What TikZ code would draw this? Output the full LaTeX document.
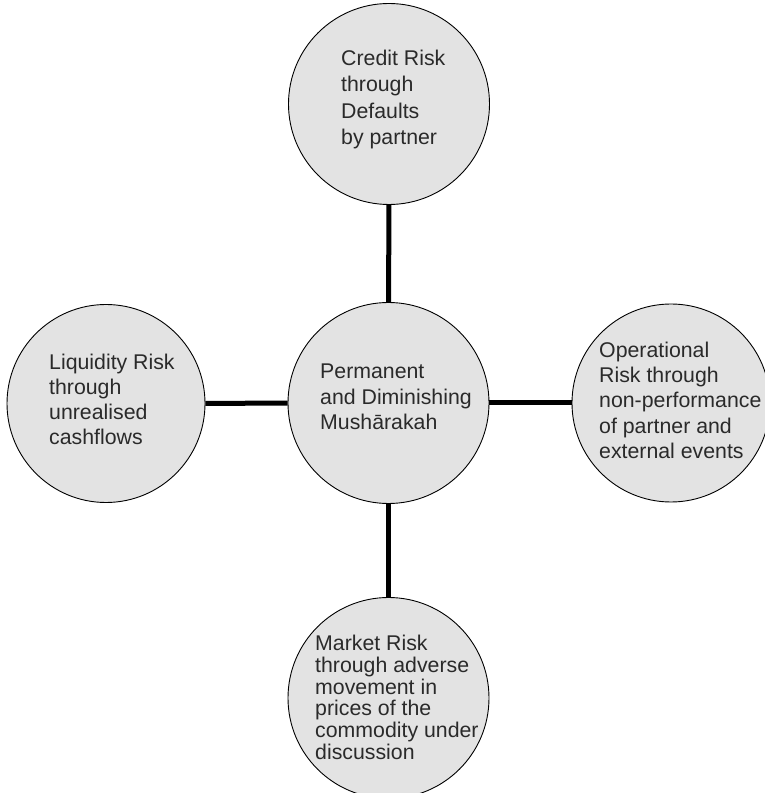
\documentclass[tikz,border=0pt]{standalone}
\usepackage{fontspec}
\setmainfont{Liberation Sans}
\definecolor{circfill}{HTML}{E3E3E3}
\definecolor{txtcol}{HTML}{2A2A2A}
\tikzset{
  riskcircle/.style={circle, draw=black, line width=0.9pt, fill=circfill, minimum size=201pt, inner sep=0pt},
  conn/.style={line width=5pt, draw=black},
  lbl/.style={anchor=base west, inner sep=0pt, text=txtcol},
}
\newcommand{\lines}[2]{\fontsize{21.3}{#1}\selectfont\begin{tabular}[t]{@{}l@{}}#2\end{tabular}}
\begin{document}
\begin{tikzpicture}[x=1pt,y=1pt]
\useasboundingbox (0,0) rectangle (765,793);
\node[riskcircle] (top) at (389,689) {};
\node[riskcircle] (mid) at (388.5,390) {};
\node[riskcircle, minimum size=198pt] (left) at (106,389.5) {};
\node[riskcircle, minimum size=198pt] (right) at (671,390) {};
\node[riskcircle] (bot) at (388.5,95) {};
\draw[conn] (top) -- (mid);
\draw[conn] (mid) -- (bot);
\draw[conn] (left) -- (mid);
\draw[conn] (mid) -- (right);
\node[lbl] (ttop) at (341,727.3) {\lines{26.2pt}{Credit Risk\\through\\Defaults\\by partner}};
\node[lbl] (tmid) at (320,414.7) {\lines{25.8pt}{Permanent\\and Diminishing\\Mushārakah}};
\node[lbl] (tleft) at (49,423.7) {\lines{25.2pt}{Liquidity Risk\\through\\unrealised\\cashflows}};
\node[lbl] (tright) at (599,435.7) {\lines{25.25pt}{Operational\\Risk through\\non-performance\\of partner and\\external events}};
\node[lbl] (tbot) at (315,142.3) {\lines{20.9pt}{Market Risk\\through adverse\\movement in\\prices of the\\commodity under\\discussion}};
\end{tikzpicture}
\end{document}
